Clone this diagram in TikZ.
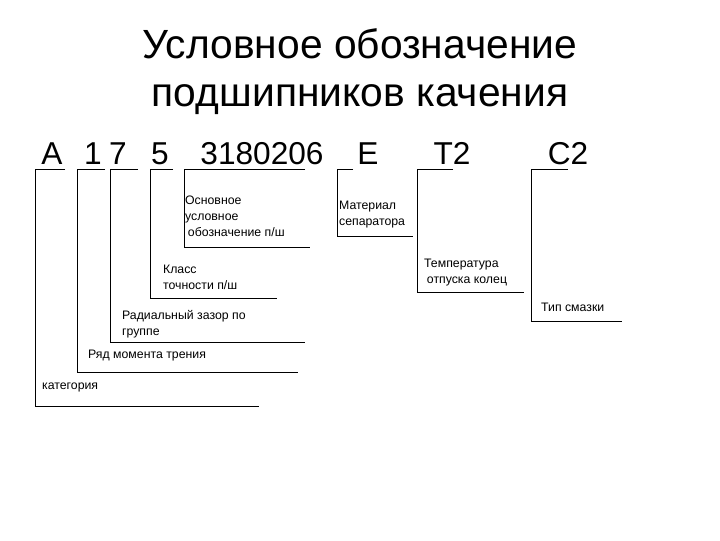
\documentclass[tikz,border=0pt]{standalone}
\usepackage{fontspec}
\setmainfont{Liberation Sans}
\usetikzlibrary{positioning}
\tikzset{
  lbl/.style={anchor=north west, align=left, inner sep=0pt, font=\fontsize{17.5}{22.5}\selectfont},
  code/.style={anchor=base, inner sep=0pt, font=\fontsize{45}{45}\selectfont},
  leader/.style={draw, line width=0.9pt}
}
\begin{document}
\begin{tikzpicture}[x=0.05cm, y=-0.05cm]
  \useasboundingbox (0,0) rectangle (720,540);
  % title
  \node[font=\fontsize{58}{68}\selectfont, align=center] (title) at (360,72)
    {Условное обозначение\\подшипников качения};
  % code line
  \node[code] (cA) at (52,164) {А};
  \node[code] (c1) at (93,164) {1};
  \node[code] (c7) at (118,164) {7};
  \node[code] (c5) at (160,164) {5};
  \node[code] (cbase) at (262,164) {3180206};
  \node[code] (cE) at (368,164) {Е};
  \node[code] (cT) at (452,164) {Т2};
  \node[code] (cC) at (568,164) {С2};
  % labels
  \node[lbl] (lbase) at (185,196) {Основное\\условное\\\hspace{4pt}обозначение п/ш};
  \node[lbl] (lclass) at (163,265) {Класс\\точности п/ш};
  \node[lbl] (lgap) at (122,310) {Радиальный зазор по\\группе};
  \node[lbl] (lrow) at (88,350) {Ряд момента трения};
  \node[lbl] (lcat) at (42,383) {категория};
  \node[lbl] (lmat) at (339,201) {Материал\\сепаратора};
  \node[lbl] (ltemp) at (424,259) {Температура\\\hspace{4pt}отпуска колец};
  \node[lbl] (lgrease) at (541,303) {Тип смазки};
  % leaders
  \foreach \xa/\xb/\yb/\xc in {35/65/406/259, 77/105/372/298, 110/138/342/305,
      150/173/298/277, 184/305/247/310, 337/353/236/413, 417/453/292/524,
      531/568/321/622}
    \draw[leader] (\xb,169) -- (\xa,169) -- (\xa,\yb) -- (\xc,\yb);
\end{tikzpicture}
\end{document}
